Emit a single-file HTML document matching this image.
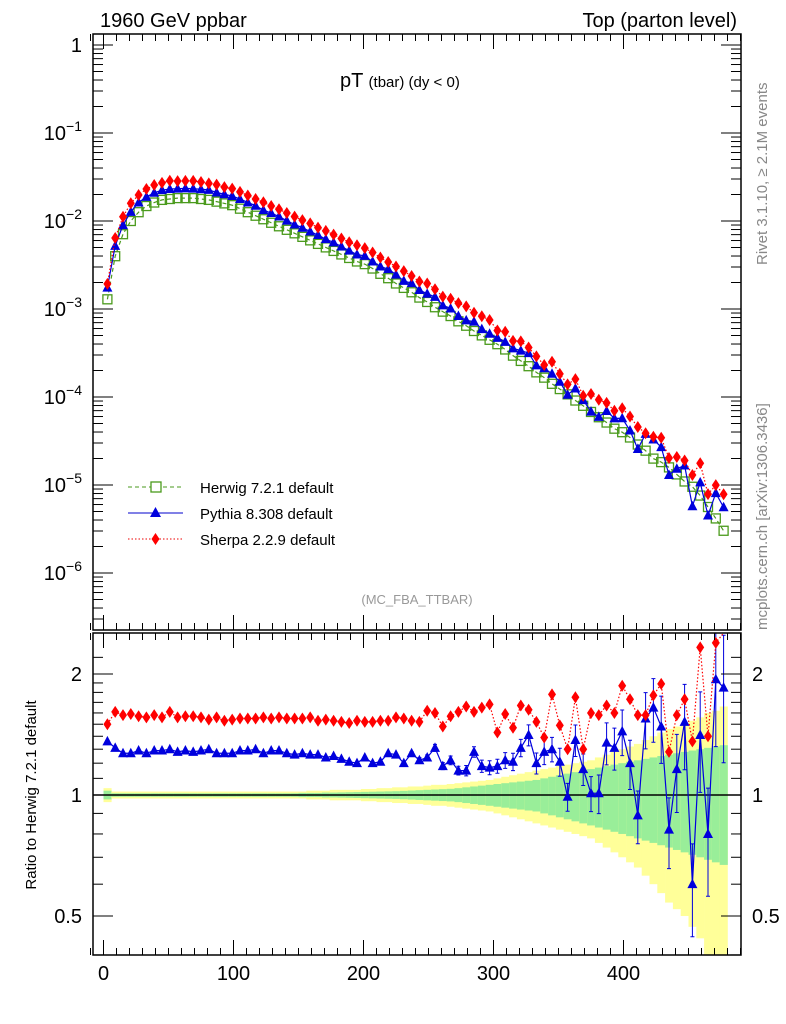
<!DOCTYPE html>
<html><head><meta charset="utf-8"><style>
body{margin:0;background:#fff;}
svg{display:block;font-family:"Liberation Sans",sans-serif;}
</style></head><body>
<svg id="c" width="786" height="1024" xmlns="http://www.w3.org/2000/svg">
<text x="100" y="27" font-size="20">1960 GeV ppbar</text>
<text x="737" y="27" font-size="20" text-anchor="end">Top (parton level)</text>
<text x="340" y="87" font-size="20">pT <tspan font-size="15">(tbar) (dy &lt; 0)</tspan></text>
<text x="417" y="604" font-size="13" fill="#999" text-anchor="middle">(MC_FBA_TTBAR)</text>
<text transform="translate(767,265) rotate(-90)" font-size="15" fill="#888">Rivet 3.1.10, ≥ 2.1M events</text>
<text transform="translate(767,630) rotate(-90)" font-size="15" fill="#888">mcplots.cern.ch [arXiv:1306.3436]</text>
<text transform="translate(36,795) rotate(-90)" font-size="15" text-anchor="middle">Ratio to Herwig 7.2.1 default</text>
<g id="main"></g><g id="ratio"></g>
<rect x="93" y="34" width="648" height="596" fill="none" stroke="#000" stroke-width="1.5"/>
<rect x="93" y="633" width="648" height="322" fill="none" stroke="#000" stroke-width="1.5"/>
<g>
<line x1="128" y1="487" x2="183" y2="487" stroke="#4a9a1c" stroke-dasharray="4,3"/><rect x="151" y="482" width="10" height="10" fill="#fff" stroke="#4a9a1c" stroke-width="1.3"/>
<text x="200" y="493" font-size="15">Herwig 7.2.1 default</text>
<line x1="128" y1="513" x2="183" y2="513" stroke="#0000cc"/><path d="M155.5,507 L161,517 L150,517Z" fill="#0000dd"/>
<text x="200" y="519" font-size="15">Pythia 8.308 default</text>
<line x1="128" y1="539" x2="183" y2="539" stroke="#e00" stroke-dasharray="1.5,2"/><path d="M155.5,533 L159.5,539 L155.5,545 L151.5,539Z" fill="#f00"/>
<text x="200" y="545" font-size="15">Sherpa 2.2.9 default</text>
</g>
</svg>
<script>
const herwigLog=[-2.89,-2.40,-2.15,-2.00,-1.90,-1.83,-1.79,-1.76,-1.75,-1.74,-1.74,-1.74,-1.75,-1.76,-1.78,-1.80,-1.82,
-1.86,-1.90,-1.94,-1.98,-2.02,-2.06,-2.10,-2.14,-2.18,-2.22,-2.26,-2.30,-2.34,-2.38,-2.42,-2.46,
-2.49,-2.54,-2.60,-2.65,-2.71,-2.76,-2.81,-2.87,-2.92,-2.98,-3.03,-3.08,-3.14,-3.19,-3.25,-3.30,-3.35,
-3.40,-3.46,-3.53,-3.59,-3.65,-3.72,-3.78,-3.85,-3.91,-3.97,-4.04,-4.10,-4.17,-4.23,-4.29,-4.36,-4.40,
-4.46,-4.54,-4.61,-4.70,-4.74,-4.80,-4.88,-4.96,-5.02,-5.12,-5.25,-5.38,-5.52];
const sherpaRatio=[1.50,1.61,1.58,1.59,1.57,1.56,1.58,1.56,1.61,1.56,1.57,1.57,1.56,1.54,1.56,1.53,1.54,1.55,1.55,1.55,1.56,1.55,1.56,1.55,1.55,1.55,1.56,1.53,1.54,1.53,1.52,1.51,1.53,
1.52,1.52,1.53,1.53,1.56,1.55,1.53,1.52,1.62,1.60,1.48,1.57,1.61,1.66,1.61,1.65,1.68,1.43,1.59,1.47,1.67,1.63,1.52,1.39,1.78,1.49,1.30,1.75,1.30,1.60,1.58,1.67,1.60,1.87,1.73,1.58,1.58,1.77,1.89,1.28,1.58,1.73,1.36,2.33,1.40,2.39,2.6];
const pythiaRatio=[1.36,1.31,1.27,1.27,1.29,1.27,1.29,1.29,1.30,1.28,1.29,1.28,1.29,1.30,1.27,1.27,1.27,1.29,1.29,1.30,1.27,1.29,1.29,1.27,1.26,1.27,1.26,1.26,1.24,1.25,1.23,1.21,1.20,
1.24,1.20,1.21,1.27,1.26,1.20,1.27,1.22,1.24,1.31,1.18,1.22,1.15,1.15,1.28,1.18,1.17,1.18,1.22,1.21,1.31,1.41,1.20,1.28,1.30,1.21,0.99,1.37,1.16,1.01,1.01,1.35,1.31,1.44,1.20,0.89,1.55,1.65,1.48,0.82,1.16,1.52,0.60,1.41,0.80,1.94,1.85];
const pythiaErr=[0,0,0,0,0,0,0,0,0,0,0,0,0,0,0,0,0,0,0,0,0,0,0,0,0,0,0,0,0,0,0,0,0,
0,0,0,0,0,0.01,0.01,0.015,0.015,0.02,0.02,0.025,0.025,0.03,0.03,0.035,0.04,0.04,0.045,0.05,0.05,0.06,0.06,0.07,0.07,0.08,0.08,0.09,0.09,0.10,0.11,0.12,0.12,0.13,0.14,0.15,0.16,0.18,0.19,0.20,0.22,0.24,0.26,0.28,0.30,0.32,0.35];
const greenBand=[.025,.01,.01,.01,.01,.01,.01,.01,.01,.01,.01,.01,.01,.01,.01,.01,.01,.01,.01,.01,.01,.01,.01,.01,.01,.012,.012,.012,.014,.014,.015,.016,.017,.018,.019,.02,.021,.022,.024,.026,.028,.03,.032,.034,.036,.04,.045,.05,.055,.06,.065,.07,.075,.08,.085,.09,.10,.11,.12,.13,.14,.15,.16,.17,.18,.19,.20,.21,.22,.23,.24,.25,.26,.27,.28,.29,.30,.31,.32,.33];
const yellowBand=[.04,.02,.02,.02,.02,.02,.02,.02,.02,.02,.02,.02,.02,.02,.02,.02,.02,.02,.02,.02,.02,.02,.02,.02,.02,.02,.025,.025,.025,.03,.03,.03,.03,.035,.035,.04,.04,.045,.045,.05,.05,.055,.06,.06,.065,.07,.075,.08,.085,.09,.10,.11,.12,.13,.14,.15,.16,.17,.18,.19,.20,.21,.22,.24,.26,.28,.30,.32,.34,.37,.40,.43,.46,.48,.50,.53,.56,.60,.62,.66];
const xTicks=[0,100,200,300,400];
const mainDecades=[0,-1,-2,-3,-4,-5,-6];
const ratioTicks=[0.5,1,2];
const NS="http://www.w3.org/2000/svg";
const binW=6;
const X=v=>103.5+v*1.3;
const Y=l=>45+(-l)*88;
const R=r=>795-Math.log10(r)*402;
function mk(t,a,p){const e=document.createElementNS(NS,t);for(const k in a)e.setAttribute(k,a[k]);p.appendChild(e);return e;}
const svg=document.getElementById('c'),gm=document.getElementById('main'),gr=document.getElementById('ratio');
const cx=i=>X((i+0.5)*binW);
for(let i=0;i<herwigLog.length;i++){
  const x0=X(i*binW),x1=X((i+1)*binW);
  let y1=Math.max(R(1+yellowBand[i]),633),y2=Math.min(R(Math.max(1-yellowBand[i],0.3)),955);
  const a=mk('rect',{x:x0,y:y1,width:x1-x0+0.3,height:y2-y1,fill:'#ffff99'},gr);
  
  
  y1=R(1+greenBand[i]);y2=R(1-greenBand[i]);
  const b=mk('rect',{x:x0,y:y1,width:x1-x0+0.3,height:y2-y1,fill:'#99ee99'},gr);
  
  
}
mk('line',{x1:93,x2:741,y1:795,y2:795,stroke:'#000','stroke-width':1.5},gr);
xTicks.forEach(v=>{
  mk('line',{x1:X(v),x2:X(v),y1:630,y2:615,stroke:'#000'},svg);
  mk('line',{x1:X(v),x2:X(v),y1:955,y2:940,stroke:'#000'},svg);
  mk('line',{x1:X(v),x2:X(v),y1:34,y2:49,stroke:'#000'},svg);
  mk('line',{x1:X(v),x2:X(v),y1:633,y2:648,stroke:'#000'},svg);
  const t=mk('text',{x:X(v),y:980,'font-size':20,'text-anchor':'middle'},svg);t.textContent=v;
  
  
});
for(let v=-10;v<=490;v+=10){if(v%100)[[630,623],[955,948],[34,41],[633,640]].forEach(p=>mk('line',{x1:X(v),x2:X(v),y1:p[0],y2:p[1],stroke:'#000'},svg));}
mainDecades.forEach(d=>{
  const y=Y(d);
  mk('line',{x1:93,x2:113,y1:y,y2:y,stroke:'#000'},svg);mk('line',{x1:741,x2:721,y1:y,y2:y,stroke:'#000'},svg);
  const t=mk('text',{x:82,y:y+7,'font-size':20,'text-anchor':'end'},svg);
  t.innerHTML=d===0?'1':'10<tspan dy="-9" font-size="14">−'+(-d)+'</tspan>';
  
  
  for(let m=2;m<10;m++){const ym=Y(d-1+Math.log10(m));if(ym>34&&ym<630){mk('line',{x1:93,x2:103,y1:ym,y2:ym,stroke:'#000'},svg);mk('line',{x1:741,x2:731,y1:ym,y2:ym,stroke:'#000'},svg);}}
});
ratioTicks.forEach(r=>{
  const y=R(r);
  mk('line',{x1:93,x2:113,y1:y,y2:y,stroke:'#000'},svg);mk('line',{x1:741,x2:721,y1:y,y2:y,stroke:'#000'},svg);
  const t=mk('text',{x:82,y:y+7,'font-size':20,'text-anchor':'end'},svg);t.textContent=r;
  
  
  const t2=mk('text',{x:752,y:y+7,'font-size':20},svg);t2.textContent=r;
  
  
});
[0.4,0.6,0.7,0.8,0.9,1.1,1.2,1.3,1.4,1.5,1.6,1.7,1.8,1.9,2.2].forEach(r=>{const y=R(r);if(y>633&&y<955){mk('line',{x1:93,x2:103,y1:y,y2:y,stroke:'#000'},svg);mk('line',{x1:741,x2:731,y1:y,y2:y,stroke:'#000'},svg);}});
function series(g,vals,color,dash,marker,name,yf,clipTop){
  let d='';vals.forEach((v,i)=>{d+=(i?'L':'M')+cx(i)+','+Math.max(yf(v),clipTop);});
  const p=mk('path',{d:d,fill:'none',stroke:color,'stroke-width':1.2,'stroke-dasharray':dash},g);
  
  
  vals.forEach((v,i)=>{
    const x=cx(i),y=yf(v);if(y<clipTop)return;let m;
    if(marker==='sq')m=mk('rect',{x:x-4.5,y:y-4.5,width:9,height:9,fill:'none',stroke:color,'stroke-width':1.3},g);
    else if(marker==='tri')m=mk('path',{d:`M${x},${y-5.5}L${x+5},${y+4}L${x-5},${y+4}Z`,fill:color},g);
    else m=mk('path',{d:`M${x},${y-6}L${x+4},${y}L${x},${y+6}L${x-4},${y}Z`,fill:color},g);
    
    
  });
}
series(gm,herwigLog,'#4a9a1c','4,3','sq','herwig',Y,34);
series(gm,herwigLog.map((h,i)=>h+Math.log10(pythiaRatio[i])),'#0000dd','','tri','pythia',Y,34);
series(gm,herwigLog.map((h,i)=>h+Math.log10(sherpaRatio[i])),'#f00','1.5,2','dia','sherpa',Y,34);
pythiaRatio.forEach((r,i)=>{const e=pythiaErr[i]*r;if(e>0.005){
  const y1=Math.max(R(r+e),633),y2=Math.min(R(Math.max(r-e,0.3)),955);
  const l=mk('path',{d:`M${cx(i)},${y1}V${y2}M${cx(i)-2},${y1}h4M${cx(i)-2},${y2}h4`,stroke:'#0000dd',fill:'none'},gr);
  
  }});
series(gr,pythiaRatio,'#0000dd','','tri','pythia-ratio',R,633);
series(gr,sherpaRatio,'#f00','1.5,2','dia','sherpa-ratio',R,633);
</script>
</body></html>
